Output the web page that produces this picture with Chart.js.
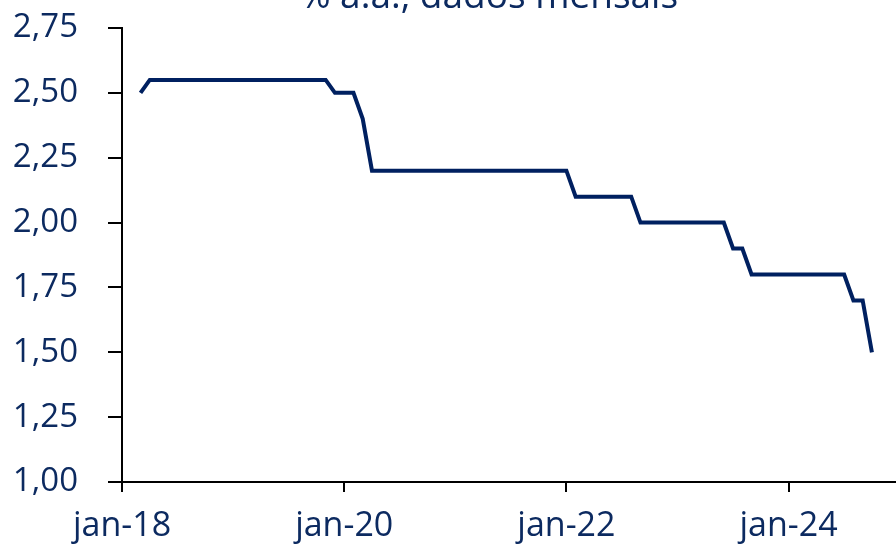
<!DOCTYPE html>
<html><head><meta charset="utf-8">
<script src="https://cdn.jsdelivr.net/npm/chart.js@4"></script>
<style>html,body{margin:0;padding:0;background:#fff}#wrap{width:896px;height:549px}</style>
</head><body><div id="wrap"><canvas id="c"></canvas></div>
<script>
const categories = ["jan-18","fev-18","mar-18","abr-18","mai-18","jun-18","jul-18","ago-18","set-18","out-18","nov-18","dez-18",
"jan-19","fev-19","mar-19","abr-19","mai-19","jun-19","jul-19","ago-19","set-19","out-19","nov-19","dez-19",
"jan-20","fev-20","mar-20","abr-20","mai-20","jun-20","jul-20","ago-20","set-20","out-20","nov-20","dez-20",
"jan-21","fev-21","mar-21","abr-21","mai-21","jun-21","jul-21","ago-21","set-21","out-21","nov-21","dez-21",
"jan-22","fev-22","mar-22","abr-22","mai-22","jun-22","jul-22","ago-22","set-22","out-22","nov-22","dez-22",
"jan-23","fev-23","mar-23","abr-23","mai-23","jun-23","jul-23","ago-23","set-23","out-23","nov-23","dez-23",
"jan-24","fev-24","mar-24","abr-24","mai-24","jun-24","jul-24","ago-24","set-24","out-24"];
const values = [null,null,2.50,2.55,2.55,2.55,2.55,2.55,2.55,2.55,2.55,2.55,
2.55,2.55,2.55,2.55,2.55,2.55,2.55,2.55,2.55,2.55,2.55,2.50,
2.50,2.50,2.40,2.20,2.20,2.20,2.20,2.20,2.20,2.20,2.20,2.20,
2.20,2.20,2.20,2.20,2.20,2.20,2.20,2.20,2.20,2.20,2.20,2.20,
2.20,2.10,2.10,2.10,2.10,2.10,2.10,2.10,2.00,2.00,2.00,2.00,
2.00,2.00,2.00,2.00,2.00,2.00,1.90,1.90,1.80,1.80,1.80,1.80,
1.80,1.80,1.80,1.80,1.80,1.80,1.80,1.70,1.70,1.50];
const xTickLabels = ["jan-18","jan-20","jan-22","jan-24"];
const yTicks = [1.00,1.25,1.50,1.75,2.00,2.25,2.50,2.75];
const titleText = "% a.a., dados mensais";

const navy = "#0c2a60";
const fontFam = "'Open Sans', sans-serif";
const points = values.map((v,i)=>({x:i,y:v}));

const cutTitle = {
  id:'cutTitle',
  afterDraw(chart){
    const ctx = chart.ctx;
    ctx.save();
    ctx.font = "37px " + fontFam;
    ctx.fillStyle = navy;
    ctx.textAlign = 'center';
    ctx.textBaseline = 'alphabetic';
    ctx.fillText(titleText, 489, 8);
    ctx.restore();
  }
};

new Chart(document.getElementById('c'),{
  type:'line',
  data:{datasets:[{data:points,borderColor:"#002060",borderWidth:4,pointRadius:0,fill:false,tension:0,spanGaps:false,borderJoinStyle:'miter'}]},
  options:{
    responsive:true,maintainAspectRatio:false,animation:false,
    layout:{padding:{top:28,right:0,left:0,bottom:0}},
    plugins:{legend:{display:false},tooltip:{enabled:false},title:{display:false}},
    scales:{
      x:{type:'linear',min:0,max:83.6,
        border:{display:true,color:'#000',width:2},
        grid:{display:true,drawOnChartArea:false,drawTicks:true,tickLength:10,color:'#000',lineWidth:2},
        afterBuildTicks:(ax)=>{ax.ticks=xTickLabels.map(l=>({value:categories.indexOf(l)}));},
        afterFit:(ax)=>{ax.height=67;ax.paddingLeft=0;ax.paddingRight=0;},
        ticks:{autoSkip:false,maxRotation:0,color:navy,font:{family:fontFam,size:34},padding:14,
          callback:(v)=>categories[v]}},
      y:{min:1,max:2.75,
        border:{display:true,color:'#000',width:2},
        grid:{display:true,drawOnChartArea:false,drawTicks:true,tickLength:14,color:'#000',lineWidth:2},
        afterBuildTicks:(ax)=>{ax.ticks=yTicks.map(v=>({value:v}));},
        afterFit:(ax)=>{ax.width=122;ax.paddingTop=0;ax.paddingBottom=0;},
        ticks:{color:navy,font:{family:fontFam,size:33},padding:30,
          callback:(v)=>v.toFixed(2).replace('.',',')}}
    }
  },
  plugins:[cutTitle]
});
</script></body></html>
